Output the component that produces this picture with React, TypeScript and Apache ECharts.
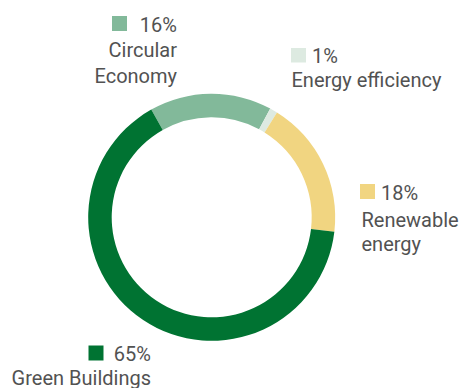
import React, { useEffect, useRef } from "react";
import * as echarts from "echarts";

const categories = ["Circular Economy", "Energy efficiency", "Renewable energy", "Green Buildings"];
const values = [16, 1, 18, 65];
const percentLabels = ["16%", "1%", "18%", "65%"];
const nameLines = [["Circular", "Economy"], ["Energy efficiency"], ["Renewable", "energy"], ["Green Buildings"]];

const palette = ["#82B99A", "#DDEAE1", "#F1D581", "#007332"];
const textColor = "#525252";
const FONT = "Roboto, sans-serif";
const FS = 20;

// label placement: anchor x, align, square box, pct baseline, first name baseline, line gap
const labelPos = [
  { align: "right", ax: 177, box: [112, 16, 15, 15], pctBase: 31.5, nameBase: 56.5, gap: 26 },
  { align: "left", ax: 291.5, box: [291, 48, 15, 14.5], pctBase: 62.3, nameBase: 86.5, gap: 25 },
  { align: "left", ax: 361.5, box: [360, 184, 15, 15], pctBase: 199.3, nameBase: 226.3, gap: 24.5 },
  { align: "right", ax: 151, box: [88.5, 345.5, 15, 15], pctBase: 360.7, nameBase: 385, gap: 25 },
];

export default function App() {
  const ref = useRef<HTMLDivElement>(null);
  useEffect(() => {
    document.body.style.margin = "0";
    const chart = echarts.init(ref.current!, null, { renderer: "svg" });
    const off = FS * 0.34;
    const graphics: any[] = [];
    categories.forEach((c, i) => {
      const p = labelPos[i];
      graphics.push({
        type: "rect",
        shape: { x: p.box[0], y: p.box[1], width: p.box[2], height: p.box[3] },
        style: { fill: palette[i] },
      });
      graphics.push({
        type: "text",
        x: p.align === "right" ? p.ax : p.box[0] + p.box[2] + 6,
        y: p.pctBase - off,
        style: {
          text: percentLabels[i],
          font: `${FS}px ${FONT}`,
          fill: textColor,
          align: p.align === "right" ? "right" : "left",
          verticalAlign: "middle",
        },
      });
      nameLines[i].forEach((ln, j) => {
        graphics.push({
          type: "text",
          x: p.ax,
          y: p.nameBase + j * p.gap - off,
          style: {
            text: ln,
            font: `${FS}px ${FONT}`,
            fill: textColor,
            align: p.align,
            verticalAlign: "middle",
          },
        });
      });
    });
    chart.setOption({
      animation: false,
      graphic: graphics,
      series: [
        {
          type: "pie",
          center: [211.7, 217.3],
          radius: [100, 123.5],
          startAngle: 119.3,
          clockwise: true,
          label: { show: false },
          labelLine: { show: false },
          emphasis: { disabled: true },
          data: categories.map((c, i) => ({ name: c, value: values[i], itemStyle: { color: palette[i] } })),
        },
      ],
    });
    return () => chart.dispose();
  }, []);
  return <div ref={ref} style={{ width: 461, height: 388 }} />;
}
